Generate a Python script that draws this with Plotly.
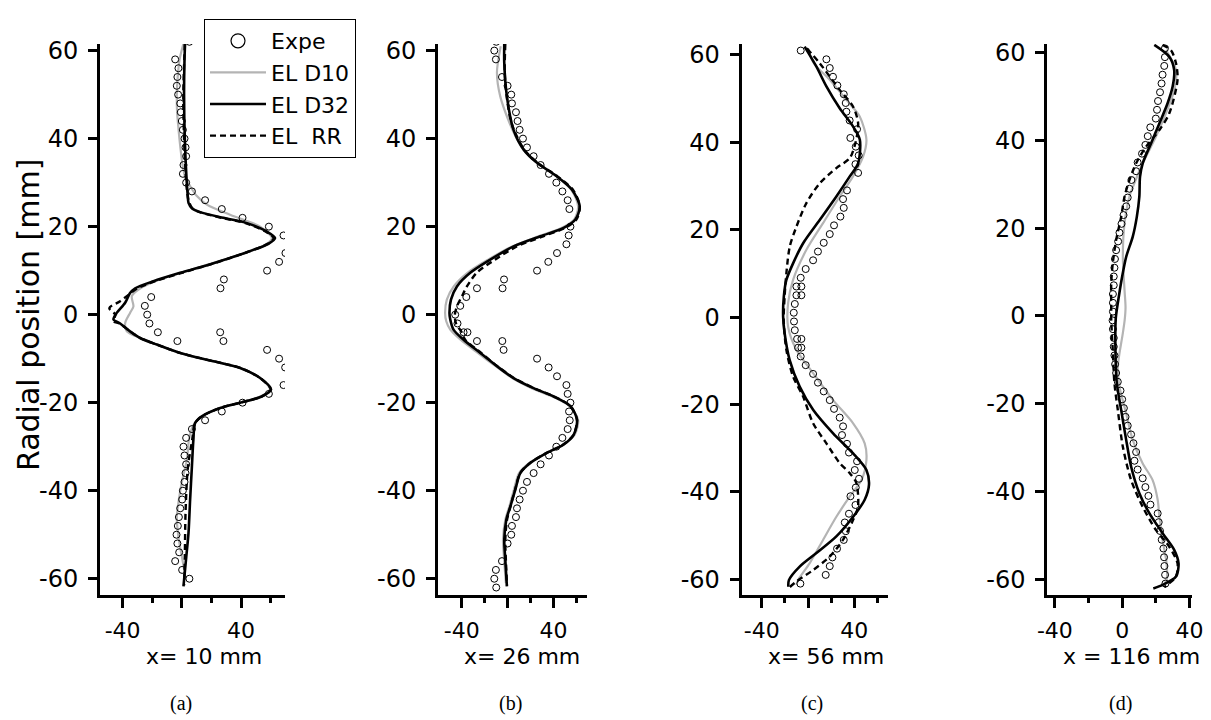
import plotly.graph_objects as go

# ---------------- data ----------------
# Panel (a)  x = 10 mm
a_exp_y = [62, 58, 56, 54, 52, 50, 48, 46, 44, 42, 40, 38, 36, 34, 32, 30, 28, 26, 24, 22, 20, 18, 14, 12, 10, 8, 6,
           4, 2, 0, -2, -4, -6, -4, -6, -8, -10, -12, -16, -18, -20, -22, -24, -26, -28, -30, -32, -34, -36, -38, -40,
           -42, -44, -46, -48, -50, -52, -54, -56, -58, -60]
a_exp_x = [5.1, -4.5, -2.3, -3, -3.4, -2.5, -1.1, -0.7, 0, 0.7, 1.8, 2.5, 2.9, 1.1, 0.7, 2.9, 6.8, 15.7, 27, 41, 58.8,
           68.7, 70, 65.7, 57.6, 28.4, 26.1, -20.7, -25, -23.4, -21.9, -16.2, -3, 25.9, 28.1, 57.6, 65.7, 69.8, 68.7,
           58.8, 41, 27, 15.7, 6.8, 2.9, 1.1, 1.8, 2.9, 2.5, 1.8, 0.7, 0.2, -1.1, -2, -2.7, -3.6, -3, -1.8, -4.5, 0.2, 5.1]
a_d10_y = [61.5, 58, 54, 50, 46, 42, 38, 34, 31, 29.2, 27, 25, 22.7, 20, 17.4, 16, 14, 11.7, 9.5, 7.6, 6, 4.2, 1.9,
           0.4, -1.9, -3.8, -5.3, -6.8, -8.7, -10.6, -12.1, -14.4, -17, -18.6, -20, -21.2, -23.1, -25, -28, -33, -38,
           -42, -46, -50, -53, -57, -60]
a_d10_x = [1, -1.5, -2.8, -3.4, -3.2, -2.2, -1, 0.5, 2.5, 5.6, 10, 16.9, 32.6, 52.9, 60.8, 57, 43, 21, -1, -18, -28,
           -33.8, -32.7, -35, -38.3, -37.2, -28.2, -16.9, -1.1, 21.4, 39.4, 52.9, 59.5, 53, 39, 25.9, 13.5, 8, 5, 3.4,
           0, -2, -3.4, -2.5, -1.1, 1.1, 2.5]
a_d32_y = [61.75, 58, 50, 40, 32, 27, 25.4, 24.2, 23.3, 22, 20.8, 18.9, 17.4, 16.1, 14.2, 11.7, 9.5, 7.6, 6, 4.9, 2.7,
           0.4, -1.1, -2, -3.8, -5.3, -6.8, -8.7, -10.6, -12.1, -14.4, -17, -18.6, -20, -21.2, -23.1, -24.6, -28.4,
           -34.5, -42, -49.6, -55, -61.75]
a_d32_x = [2.2, 1.8, 1.5, 2, 3, 4, 4.5, 6.8, 12.4, 28, 44, 57.4, 63, 58.5, 44, 21.4, -1.1, -19.2, -31.5, -35, -38.3,
           -44, -46.2, -41.7, -35, -28.2, -16.9, -1.1, 21.4, 39.4, 52.9, 60.3, 54, 39.4, 25.9, 13.5, 9, 7.8, 6.8, 5.6,
           4.5, 3, 1.1]
a_rr_y = [61.5, 50, 40, 30, 26, 24.2, 23.3, 22, 20.8, 18.9, 17.4, 16.1, 14.2, 11.7, 9.5, 7.6, 6, 4.5, 3, 1.5, 0, -1.5,
          -2, -3.8, -5.3, -6.8, -8.7, -10.6, -12.1, -14.4, -17, -18.6, -20, -21.2, -23.1, -24.6, -28.4, -35, -45, -55,
          -61.5]
a_rr_x = [2, 1, 1.5, 3, 4.5, 7, 12, 27, 43, 56.5, 62, 58, 44, 22, 0, -18, -30, -36, -42, -49, -45, -46, -42, -35,
          -28.2, -16.9, -1.1, 21.4, 39.4, 52.9, 60, 54, 39.4, 25.9, 13.5, 9, 7, 4, 2.5, 2, 1.5]

# Panel (b)  x = 26 mm
b_exp_y = [62, 60, 58, 54, 52, 50, 48, 46, 44, 42, 40, 38, 36, 34, 32, 30, 28, 26, 24, 20, 18, 16, 14, 12, 10, 8, 6,
           6, 4, 2, 0, -2, -4, -4, -6, -6, -8, -10, -12, -14, -16, -18, -20, -22, -24, -26, -28, -30, -32, -34, -36,
           -38, -40, -42, -44, -46, -48, -50, -52, -56, -58, -60, -62]
b_exp_x = [-9.9, -11.6, -10.2, -4.9, 0, 3.2, 3.8, 7.3, 8.7, 10.5, 13.4, 16.9, 22.7, 28.8, 36.1, 42.5, 47.8, 52.4, 53.9,
           54.8, 53.3, 51.3, 43.1, 35.5, 25.7, -3.1, -4.4, -26.7, -36, -41.3, -45.7, -43.7, -38.4, -35, -26.7, -4.6,
           -3.5, 25.7, 35.8, 43.1, 51.3, 52.4, 54.8, 53.6, 54.2, 52.4, 47.8, 42.5, 36.1, 28.8, 22.7, 16.9, 13.4, 10.5,
           8.2, 7.3, 3.8, 3.2, 0, -4.9, -10.2, -11.6, -9.9]
b_d10_y = [61, 55, 49.6, 44, 40, 37.5, 34.5, 31.4, 28.4, 24.6, 21.6, 19.7, 17.8, 15.5, 12.5, 9.5, 6.4, 3.4, 0.4, -1.5,
           -3.4, -5.7, -8.7, -11.7, -14.4, -16.7, -18.6, -20.8, -23.9, -27.3, -29.5, -31.4, -33.7, -36, -39.8, -43.6,
           -46.6, -51.1, -55.7, -61]
b_d10_x = [-6, -9.3, -6.4, 1, 8, 14, 25.7, 43, 55.5, 61.5, 58, 47, 27, 4, -17, -35, -47, -53, -54.5, -53.5, -50, -41,
           -26, -10.5, 4, 21, 39, 54, 61.5, 58.5, 49, 34, 19, 10, 5.5, 1.5, -2, -4, -3, -1.5]
b_d32_y = [61.75, 57.2, 49.6, 42, 37.5, 34.5, 31.4, 28.4, 24.6, 21.6, 19.7, 17.8, 15.5, 12.5, 9.5, 6.4, 3.4, 0.4, -1.1,
           -3.4, -5.7, -8.7, -11.7, -14.4, -16.7, -18.6, -20.8, -23.9, -27.3, -29.5, -31.4, -33.7, -36, -39.8, -43.6,
           -46.6, -51.1, -55.7, -61.75]
b_d32_x = [-2.9, -2.9, -0.6, 5.2, 14, 25.7, 43.1, 56.2, 62.9, 59.1, 48.9, 28.6, 5.2, -15.1, -32.6, -44.2, -49.4, -50.7,
           -50, -47.2, -38.4, -23.8, -9.3, 5.2, 22.7, 40.2, 54.8, 60.6, 57.6, 48.9, 34.4, 19.8, 11.1, 6.7, 2.4, -1.1,
           -2.9, -2, -0.6]
b_rr_y = [61.5, 55, 50, 45, 42, 37.5, 34.5, 31.4, 28.4, 24.6, 21.6, 19.7, 17.8, 15.5, 12.5, 9.5, 6.4, 4.2, 2, 0, -2,
          -4, -5.7, -8.7, -11.7, -14.4, -16.7, -18.6, -20.8, -23.9, -27.3, -29.5, -31.4, -33.7, -36, -39.8, -43.6,
          -46.6, -51.1, -55.7, -61.5]
b_rr_x = [-2, -2.5, -1, 2, 5.5, 14.5, 26, 43.5, 57, 63, 60, 50, 31, 8, -11, -27, -35.5, -39.8, -44, -46, -45, -40, -37,
          -23, -9, 5.5, 23, 40.5, 55, 60.5, 57.5, 48.5, 34, 19.5, 11, 6.5, 2.5, -0.5, -2, -1.5, -0.5]

# Panel (c)  x = 56 mm
c_exp_y = [61, 59, 57, 55, 53, 51, 49, 47, 45, 43, 41, 39, 37, 35, 33, 29, 27, 25, 23, 21, 19, 17, 15, 13, 11, 9, 7, 7,
           5, 5, 3, 1, -1, -3, -5, -5, -7, -7, -9, -11, -13, -15, -17, -19, -21, -23, -25, -27, -29, -31, -33, -35, -37,
           -39, -41, -43, -45, -47, -49, -51, -53, -55, -57, -59, -61]
c_exp_x = [-6.3, 15.9, 18.8, 21.6, 25.4, 30.9, 32.6, 33.2, 36, 42.4, 36.6, 41.3, 43.8, 41, 43.3, 33.7, 30.3, 30.9, 28,
           22.5, 18.8, 13.6, 8.6, 4.4, -2, -6.3, -5.7, -10, -5.7, -10, -11.4, -12.3, -12.1, -11.4, -9.4, -5.7, -8.6,
           -5.7, -6.3, -2, 4.4, 8.6, 13.6, 18.8, 22.5, 27.4, 30.3, 29.4, 33.7, 35.4, 42.4, 40.4, 44.1, 41.3, 36.7, 41,
           35.4, 31.8, 32.7, 30.9, 25.1, 21.1, 18.8, 15.3, -6.6]
c_d10_y = [61.5, 58.1, 54.3, 49.7, 45.9, 40.6, 36.7, 32.2, 27.6, 21.5, 15.4, 8.5, 3.2, -2.2, -7.5, -12.8, -19, -24.3,
           -28.9, -32.7, -37.3, -41.1, -45.7, -51, -56.3, -60.2, -61.3]
c_d10_x = [0, 5, 18.8, 33.2, 44.7, 50.5, 47.6, 38.9, 27.4, 13, -1.4, -12.9, -17.2, -17.2, -10, 4.4, 21.7, 39, 49, 50.5,
           46.2, 36, 24.5, 13, 1.5, -8.6, -10]
c_d32_y = [61.9, 57.3, 52.8, 47.8, 43.6, 40.6, 35.2, 32.2, 27.6, 22.2, 16.9, 12.3, 8.5, 4.7, 0.1, -3.7, -9.8, -15.9,
           -21.2, -26.6, -31.2, -35, -38.4, -41.8, -45.7, -50.2, -54, -57.1, -60.2, -61.7]
c_d32_x = [-2.9, 7.3, 15.9, 27.4, 39, 44.8, 43.3, 36.1, 24.5, 10.1, -4.2, -12.9, -18.7, -20.9, -21.5, -20.2, -15.9,
           -7.2, 4.4, 21.7, 39, 50.5, 52.7, 49, 39, 24.5, 7.3, -7.2, -16.5, -17]
c_rr_y = [61.5, 58.1, 52, 48.2, 44.4, 40.2, 36.4, 34.1, 30.6, 26.1, 20.7, 16.1, 10, 4.7, -0.6, -7.5, -13.6, -18.2,
          -24.3, -28.9, -33.4, -35.7, -38, -43.4, -46.4, -51, -54.8, -57.9, -60.5, -61.8]
c_rr_x = [-1, 10.1, 27.4, 38.9, 43.3, 41.3, 36.1, 24.5, 10.1, -1.4, -10, -15.8, -18.7, -20.2, -21, -18.7, -12.9, -4.2,
          4.4, 15.9, 27.4, 36, 41.8, 43.2, 39, 30.2, 18.8, 4.4, -10, -15.8]

# Panel (d)  x = 116 mm
d_exp_y = [61, 59, 57, 55, 53, 51, 49, 47, 45, 43, 41, 39, 37, 35, 33, 31, 29, 27, 25, 23, 21, 19, 17, 15, 13, 11, 9,
           7, 5, 3, 1, -1, -3, -5, -7, -9, -11, -13, -15, -17, -19, -21, -23, -25, -27, -29, -31, -33, -35, -37, -39,
           -41, -43, -45, -47, -49, -51, -53, -55, -57, -59, -61]
d_exp_x = [25.4, 25.4, 25, 24, 23.4, 22.5, 21.3, 20.7, 20, 16.7, 15.2, 13.8, 11.8, 9.2, 8.3, 5.5, 4.3, 3.3, 2.4, 0.8,
           -0.4, -1.6, -2.4, -3.6, -4.3, -4.6, -5, -5, -5.5, -5.5, -5.5, -5.7, -5.5, -5, -5, -4.6, -4.2, -3.6, -2.6,
           -1, 0, 1, 2, 3.3, 5.3, 6.7, 8.3, 7.3, 9.2, 12.2, 13.8, 15.6, 16.8, 21.1, 21.7, 22.5, 23.5, 24.5, 24.9, 25.1,
           25.5, 25.7]
d_d10_y = [60.6, 56.1, 51.5, 46.2, 40.9, 34.8, 30, 27.2, 21.1, 13.5, 5.9, 2, -0.9, -3.9, -11.6, -16.1, -22.2, -28.3,
           -33.6, -37.4, -41.9, -45.7, -51, -56.4, -60.2, -61.5]
d_d10_x = [26, 32, 31, 26, 20.1, 12.2, 7, 4.3, 1.4, 0.4, 1.4, 2, 1.5, 0.4, -2.6, -1.6, 2.4, 6.3, 12.2, 18.1, 21.1,
           22.1, 24, 26.4, 26.4, 24]
d_d32_y = [61.8, 59.1, 56.1, 52.3, 48.5, 43.9, 39.4, 34.8, 31.7, 27.2, 22.6, 18.1, 13.5, 9, 4.4, -0.5, -7.7, -15.3,
           -21.4, -28.3, -34.3, -40.4, -45, -49.5, -53.3, -56.4, -59.4, -61.3, -62.1]
d_d32_x = [19.1, 28, 30.9, 30, 27, 22.1, 17.2, 12.2, 10.6, 10.2, 8.7, 6.3, 2.4, 0, -2, -3.8, -4, -3.2, -0.6, 2.4, 5.3,
           10.2, 16.2, 24, 30.9, 33.5, 32, 24, 18.5]
d_rr_y = [61.8, 60.6, 57.6, 53.8, 46.2, 42.4, 38.6, 34.8, 31, 27.2, 22.6, 17.3, 12, 7.5, 1.4, -0.9, -7.7, -15.3, -21.4,
          -29.8, -37.4, -43.5, -48.8, -52.6, -56.4, -59.4, -60.9, -61.8]
d_rr_x = [24, 29, 32, 32.9, 28, 22.1, 14.2, 8.3, 4.3, 1.4, -0.6, -3.6, -5.6, -6.5, -6.5, -6.5, -5.6, -4.6, -2.6, 0.4,
          5.3, 12.2, 20.1, 28, 32.9, 32, 28, 25]

x_titles = ["x= 10 mm", "x= 26 mm", "x= 56 mm", "x = 116 mm"]
captions = ["(a)", "(b)", "(c)", "(d)"]
y_ticks = [-60, -40, -20, 0, 20, 40, 60]
y_tick_text = ["-60", "-40", "-20", "0", "20", "40", "60"]

# ---------------- figure ----------------
W, H = 1211, 720
SANS = "DejaVu Sans, Verdana, sans-serif"
SERIF = "Liberation Serif, Times New Roman, serif"

panels = [
    dict(exp=(a_exp_x, a_exp_y), d10=(a_d10_x, a_d10_y), d32=(a_d32_x, a_d32_y), rr=(a_rr_x, a_rr_y),
         xdom=(100, 285), xr=[-55.3, 69.7], yr=[-63.7, 61.5], xlab=["-40", "", "40"], xt_c=204, cap_c=181),
    dict(exp=(b_exp_x, b_exp_y), d10=(b_d10_x, b_d10_y), d32=(b_d32_x, b_d32_y), rr=(b_rr_x, b_rr_y),
         xdom=(438, 586.7), xr=[-60.7, 69.0], yr=[-63.7, 61.5], xlab=["-40", "", "40"], xt_c=522, cap_c=510),
    dict(exp=(c_exp_x, c_exp_y), d10=(c_d10_x, c_d10_y), d32=(c_d32_x, c_d32_y), rr=(c_rr_x, c_rr_y),
         xdom=(741.7, 888.3), xr=[-57.3, 69.4], yr=[-63.6, 62.5], xlab=["-40", "", "40"], xt_c=826, cap_c=812),
    dict(exp=(d_exp_x, d_exp_y), d10=(d_d10_x, d_d10_y), d32=(d_d32_x, d_d32_y), rr=(d_rr_x, d_rr_y),
         xdom=(1047.3, 1192), xr=[-44.5, 41.5], yr=[-63.6, 62.0], xlab=["-40", "0", "40"], xt_c=1131, cap_c=1120),
]

fig = go.Figure()
layout = {}
annotations = []
ydom = [1 - 595 / H, 1 - 44 / H]

# legend-only entries (no data), so the legend symbols can be drawn at the reference's size
fig.add_trace(go.Scatter(x=[None], y=[None], mode="markers", name="Expe",
                         marker=dict(symbol="circle-open", size=14, color="black", line=dict(width=1.2)),
                         legendrank=1))
fig.add_trace(go.Scatter(x=[None], y=[None], mode="lines", name="EL D10",
                         line=dict(color="#b4b4b4", width=2.2), legendrank=2))
fig.add_trace(go.Scatter(x=[None], y=[None], mode="lines", name="EL D32",
                         line=dict(color="black", width=2.4), legendrank=3))
fig.add_trace(go.Scatter(x=[None], y=[None], mode="lines", name="EL\u00a0\u00a0RR",
                         line=dict(color="black", width=2.4, dash="6px,4px"), legendrank=4))

for i, p in enumerate(panels):
    k = "" if i == 0 else str(i + 1)
    xa, ya = "x" + k, "y" + k
    fig.add_trace(go.Scatter(x=p["d10"][0], y=p["d10"][1], mode="lines", name="EL D10",
                             line=dict(color="#b4b4b4", width=2.2, shape="spline", smoothing=0.8),
                             xaxis=xa, yaxis=ya, showlegend=False))
    fig.add_trace(go.Scatter(x=p["rr"][0], y=p["rr"][1], mode="lines", name="EL\u00a0\u00a0RR",
                             line=dict(color="black", width=2.4, dash="6px,4px", shape="spline", smoothing=0.8),
                             xaxis=xa, yaxis=ya, showlegend=False))
    fig.add_trace(go.Scatter(x=p["d32"][0], y=p["d32"][1], mode="lines", name="EL D32",
                             line=dict(color="black", width=2.6, shape="spline", smoothing=0.8),
                             xaxis=xa, yaxis=ya, showlegend=False))
    fig.add_trace(go.Scatter(x=p["exp"][0], y=p["exp"][1], mode="markers", name="Expe",
                             marker=dict(symbol="circle-open", size=7, color="black", line=dict(width=1)),
                             xaxis=xa, yaxis=ya, showlegend=False))

    layout["xaxis" + k] = dict(
        domain=[p["xdom"][0] / W, p["xdom"][1] / W], range=p["xr"], anchor=ya,
        showline=True, linewidth=3, linecolor="black", showgrid=False, zeroline=False,
        ticks="outside", ticklen=10, tickwidth=3, tickcolor="black", ticklabelstandoff=4,
        tickvals=[-40, 0, 40], ticktext=p["xlab"],
        tickfont=dict(family=SANS, size=22, color="black"),
        minor=dict(tickvals=[-20, 20, 60], ticks="outside", ticklen=5, tickwidth=3, tickcolor="black"),
        automargin=False, fixedrange=True)
    layout["yaxis" + k] = dict(
        domain=ydom, range=p["yr"], anchor=xa,
        showline=True, linewidth=3, linecolor="black", showgrid=False, zeroline=False,
        ticks="outside", ticklen=9, tickwidth=3, tickcolor="black", ticklabelstandoff=5,
        tickvals=y_ticks, ticktext=y_tick_text, tickfont=dict(family=SANS, size=24, color="black"),
        automargin=False, fixedrange=True)
    annotations.append(dict(text=x_titles[i], x=p["xt_c"] / W, y=1 - 656 / H, xref="paper", yref="paper",
                            xanchor="center", yanchor="middle", showarrow=False,
                            font=dict(family=SANS, size=22, color="black")))
    annotations.append(dict(text=captions[i], x=p["cap_c"] / W, y=1 - 703 / H, xref="paper", yref="paper",
                            xanchor="center", yanchor="middle", showarrow=False,
                            font=dict(family=SERIF, size=20, color="black")))

annotations.append(dict(text="Radial position [mm]", x=28 / W, y=1 - 315 / H, xref="paper", yref="paper",
                        xanchor="center", yanchor="middle", textangle=-90, showarrow=False,
                        font=dict(family=SANS, size=30, color="black")))

fig.update_layout(
    width=W, height=H, margin=dict(l=0, r=0, t=0, b=0, pad=0, autoexpand=False),
    paper_bgcolor="white", plot_bgcolor="white",
    annotations=annotations,
    legend=dict(x=204 / W, y=1 - 19 / H, xanchor="left", yanchor="top", bordercolor="black", borderwidth=1,
                bgcolor="white", font=dict(family=SANS, size=22, color="black"), tracegroupgap=0,
                itemwidth=56),
    **layout)

fig.write_html("out.html", config={"displayModeBar": False, "staticPlot": False},
               post_script="document.body.style.margin='0';document.body.style.padding='0';")
